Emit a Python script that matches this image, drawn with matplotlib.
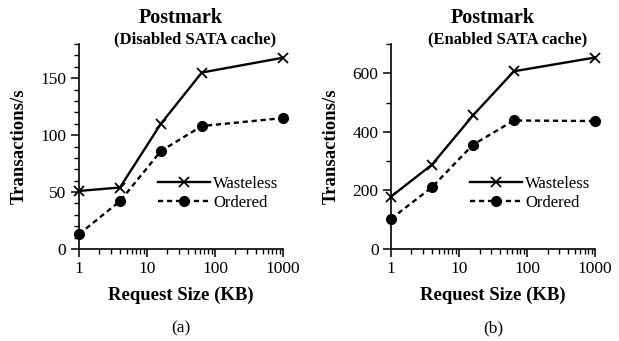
import matplotlib
matplotlib.use("Agg")
import matplotlib.pyplot as plt
from matplotlib.ticker import MultipleLocator, LogLocator, NullFormatter

plt.rcParams['font.family'] = ['Liberation Serif', 'DejaVu Serif']

sizes = [1, 4, 16, 64, 1000]

# (a) disabled SATA cache
wasteless_a = [51, 54, 110, 155, 168]
ordered_a = [13, 42, 86, 108, 115]

# (b) enabled SATA cache
wasteless_b = [179, 288, 456, 607, 654]
ordered_b = [103, 211, 356, 439, 437]

fig = plt.figure(figsize=(6.19, 3.41), dpi=100)

panels = [
    (0.1276, wasteless_a, ordered_a, 180, 50, 10, "(Disabled SATA cache)", "(a)"),
    (0.6317, wasteless_b, ordered_b, 700, 200, 100, "(Enabled SATA cache)", "(b)"),
]

for left, w, o, ytop, major, minor, sub, tag in panels:
    ax = fig.add_axes([left, 0.2698, 0.3296, 0.601])
    ax.plot(sizes, w, color='black', lw=1.7, marker='x', ms=7.5, mew=1.3,
            label='Wasteless', clip_on=False)
    ax.plot(sizes, o, color='black', lw=1.7, ls=(0, (2.2, 1.6)), marker='o',
            ms=7, label='Ordered', clip_on=False)
    ax.set_xscale('log')
    ax.set_xlim(1, 1000)
    ax.set_ylim(0, ytop)
    ax.yaxis.set_major_locator(MultipleLocator(major))
    ax.yaxis.set_minor_locator(MultipleLocator(minor))
    ax.xaxis.set_minor_locator(LogLocator(base=10, subs=range(2, 10)))
    ax.xaxis.set_minor_formatter(NullFormatter())
    ax.set_xticks([1, 10, 100, 1000])
    ax.set_xticklabels(['1', '10', '100', '1000'])
    for s in ['top', 'right']:
        ax.spines[s].set_visible(False)
    for s in ['left', 'bottom']:
        ax.spines[s].set_linewidth(1.2)
    ax.tick_params(which='major', direction='out', length=6, width=1.1,
                   labelsize=12.5, pad=3)
    ax.tick_params(which='minor', direction='out', length=3.5, width=1.0)
    ax.set_xlabel('Request Size (KB)', fontsize=13.5, fontweight='bold')
    ax.xaxis.set_label_coords(0.5, -0.185)
    ax.set_ylabel('Transactions/s', fontsize=13.5, fontweight='bold')
    ax.yaxis.set_label_coords(-0.25, 0.5)
    ax.legend(loc='center left', bbox_to_anchor=(0.387, 0.27), frameon=False,
              fontsize=12, borderpad=0, borderaxespad=0, handlelength=3.1,
              handletextpad=0.2, labelspacing=0.2)
    ax.text(0.5, 1.127, 'Postmark', transform=ax.transAxes, ha='center',
            va='center', fontsize=14.5, fontweight='bold')
    ax.text(0.57, 0.985, sub, transform=ax.transAxes, ha='center',
            va='bottom', fontsize=12, fontweight='bold')
    ax.text(0.5, -0.35, tag, transform=ax.transAxes, ha='center',
            va='top', fontsize=12.5)

fig.savefig('out.png', dpi=100)
